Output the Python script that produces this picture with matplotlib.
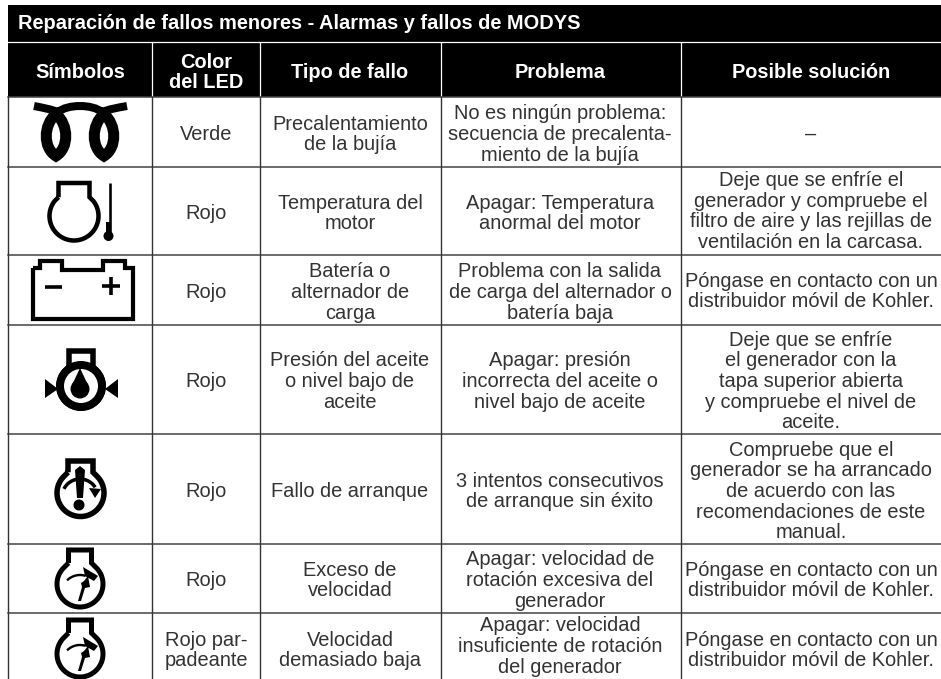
import numpy as np
import matplotlib
matplotlib.use("Agg")
import matplotlib.pyplot as plt
from matplotlib.path import Path
import matplotlib.patches as patches

plt.rcParams['font.family'] = ['Liberation Sans', 'DejaVu Sans']

# table content
title = "Reparación de fallos menores - Alarmas y fallos de MODYS"
headers = ["Símbolos", ["Color", "del LED"], "Tipo de fallo", "Problema", "Posible solución"]
led_colors = [["Verde"], ["Rojo"], ["Rojo"], ["Rojo"], ["Rojo"], ["Rojo"], ["Rojo par-", "padeante"]]
fault_types = [
    ["Precalentamiento", "de la bujía"],
    ["Temperatura del", "motor"],
    ["Batería o", "alternador de", "carga"],
    ["Presión del aceite", "o nivel bajo de", "aceite"],
    ["Fallo de arranque"],
    ["Exceso de", "velocidad"],
    ["Velocidad", "demasiado baja"],
]
problems = [
    ["No es ningún problema:", "secuencia de precalenta-", "miento de la bujía"],
    ["Apagar: Temperatura", "anormal del motor"],
    ["Problema con la salida", "de carga del alternador o", "batería baja"],
    ["Apagar: presión", "incorrecta del aceite o", "nivel bajo de aceite"],
    ["3 intentos consecutivos", "de arranque sin éxito"],
    ["Apagar: velocidad de", "rotación excesiva del", "generador"],
    ["Apagar: velocidad", "insuficiente de rotación", "del generador"],
]
solutions = [
    ["–"],
    ["Deje que se enfríe el", "generador y compruebe el", "filtro de aire y las rejillas de", "ventilación en la carcasa."],
    ["Póngase en contacto con un", "distribuidor móvil de Kohler."],
    ["Deje que se enfríe", "el generador con la", "tapa superior abierta", "y compruebe el nivel de", "aceite."],
    ["Compruebe que el", "generador se ha arrancado", "de acuerdo con las", "recomendaciones de este", "manual."],
    ["Póngase en contacto con un", "distribuidor móvil de Kohler."],
    ["Póngase en contacto con un", "distribuidor móvil de Kohler."],
]

# layout in pixels
col_edges = [8, 152, 260, 441, 681, 945]
row_edges = [97, 167, 255, 325, 434, 544, 613, 680]
text_mid = [133, 212, 291, 380, 490, 579, 649]
problem_mid = [133, 212, 291, 380, 490, 579, 645]
solution_mid = [133, 210, 290, 380, 490, 579, 649]
PX = 0.72  # points per pixel at dpi 100
FS = 14.4
LINE_H = 20.7
INK = '#333333'

fig = plt.figure(figsize=(9.41, 6.79), dpi=100)
ax = fig.add_axes([0, 0, 1, 1])
ax.set_xlim(0, 941)
ax.set_ylim(679, 0)
ax.axis('off')


def block(x, ymid, lines, pitch=LINE_H, **kw):
    n = len(lines)
    for i, s in enumerate(lines):
        y = ymid + (i - (n - 1) / 2) * pitch
        ax.text(x, y + 7, s, ha='center', va='baseline', fontsize=kw.get('fontsize', FS),
                fontweight=kw.get('fontweight', 'normal'), color=kw.get('color', INK))


def stroke(xs, ys, w, **kw):
    ax.plot(xs, ys, color='black', lw=w * PX, solid_capstyle=kw.get('cap', 'butt'),
            solid_joinstyle=kw.get('join', 'miter'))


def engine(cx, cy, r, neck, top, w):
    # circle body with a square neck on top
    a0 = np.arcsin((neck + 4) / r)
    t = np.linspace(a0, 2 * np.pi - a0, 80)
    xs = cx + r * np.sin(t)
    ys = cy - r * np.cos(t)
    xs = np.r_[cx - neck, cx - neck, cx + neck, cx + neck, xs, cx - neck]
    ys = np.r_[ys[-1] - 4, top, top, ys[0] - 4, ys, ys[-1] - 4]
    stroke(xs, ys, w)


def fill_poly(pts, **kw):
    ax.add_patch(patches.Polygon(pts, closed=True, fc=kw.get('fc', 'black'), ec='none'))


def glow_plug():
    for cx in (56, 104):
        verts = [(cx, 114), (cx - 13, 125), (cx - 13, 148), (cx, 156),
                 (cx + 13, 148), (cx + 13, 125), (cx, 114)]
        codes = [Path.MOVETO] + [Path.CURVE4] * 6
        ax.add_patch(patches.PathPatch(Path(verts, codes), fc='none', ec='black', lw=11 * PX))
    verts = [(34, 106), (44, 108), (50, 109), (58, 112), (68, 104), (92, 104), (102, 112),
             (110, 109), (116, 108), (127, 106)]
    codes = [Path.MOVETO] + [Path.CURVE4] * 9
    ax.add_patch(patches.PathPatch(Path(verts, codes), fc='none', ec='black', lw=8 * PX))


def temperature():
    engine(74, 216, 24.5, 15.5, 183, 4.5)
    stroke([110, 110], [183, 234], 2.6)
    stroke([108.5, 108.5], [222, 236], 4)
    ax.add_patch(patches.Circle((108.5, 236), 5, fc='black', ec='none'))


def battery():
    xs = [33, 40, 40, 62, 62, 103, 103, 125, 125, 133, 133, 33, 33]
    ys = [268, 268, 261, 261, 270, 270, 261, 261, 268, 268, 319, 319, 268]
    stroke(xs, ys, 4.2)
    stroke([45, 62], [287, 287], 3.6)
    stroke([102, 120], [286, 286], 3.6)
    stroke([111, 111], [277, 295], 3.6)


def oil():
    engine(81, 386, 22, 12, 351, 5.5)
    ax.add_patch(patches.Circle((81, 386), 21, fc='none', ec='black', lw=8 * PX))
    ax.add_patch(patches.Circle((80, 389), 9.5, fc='black', ec='none'))
    fill_poly([(80, 368), (72, 385), (88, 385)])
    fill_poly([(45, 379), (45, 398), (58, 389)])
    fill_poly([(118, 379), (118, 398), (105, 389)])


def start_fail():
    engine(80.5, 493, 23.5, 12.5, 461, 5.5)
    fill_poly([(75, 470), (80, 466), (85, 470), (83, 498), (77, 498)])
    ax.add_patch(patches.Circle((79, 505), 5.5, fc='black', ec='none'))
    t = np.linspace(-1.1, 1.0, 40)
    stroke(80 + 18 * np.sin(t), 497 - 18 * np.cos(t), 3.5)
    fill_poly([(89, 488), (101, 489), (95, 498)])


def gauge(dy):
    cy = 584 + dy
    engine(80, cy, 23, 11.5, 550 + dy, 5)
    t = np.linspace(-0.75, 0.3, 30)
    stroke(80 + 19 * np.sin(t), cy + 11 - 20 * np.cos(t), 2.4)
    fill_poly([(83, cy - 17), (98, cy - 8), (94, cy - 3), (85, cy - 8)])
    fill_poly([(78, cy + 17), (81, cy + 17), (85, cy + 4), (90, cy + 3), (88, cy - 8),
               (84, cy - 3), (81, cy - 1), (82, cy + 3)])


# black bands
ax.add_patch(patches.Rectangle((8, 5), 933, 92, fc='black', ec='none'))
ax.plot([8, 941], [42, 42], color='white', lw=0.9)
for x in col_edges[1:5]:
    ax.plot([x, x], [43, 97], color='white', lw=0.9)

# grid
for y in row_edges[:-1]:
    ax.plot([8, 941], [y, y], color='#444444', lw=1.1)
for x in col_edges[:5]:
    ax.plot([x, x], [97, 679], color='#333333', lw=1.0)

ax.text(18, 29, title, ha='left', va='baseline', fontsize=FS, fontweight='bold', color='white')

col_mid = [80, 206, 350, 560, 811]
head_mid = [71, 71, 71, 71, 71]
for x, y, h in zip(col_mid, head_mid, headers):
    block(x, y, h if isinstance(h, list) else [h], pitch=21, fontweight='bold', color='white')

for i in range(7):
    block(col_mid[1], text_mid[i], led_colors[i])
    block(col_mid[2], text_mid[i], fault_types[i])
    block(col_mid[3], problem_mid[i], problems[i])
    block(col_mid[4], solution_mid[i], solutions[i])

glow_plug()
temperature()
battery()
oil()
start_fail()
gauge(0)
gauge(70)

fig.savefig("out.png", dpi=100)
